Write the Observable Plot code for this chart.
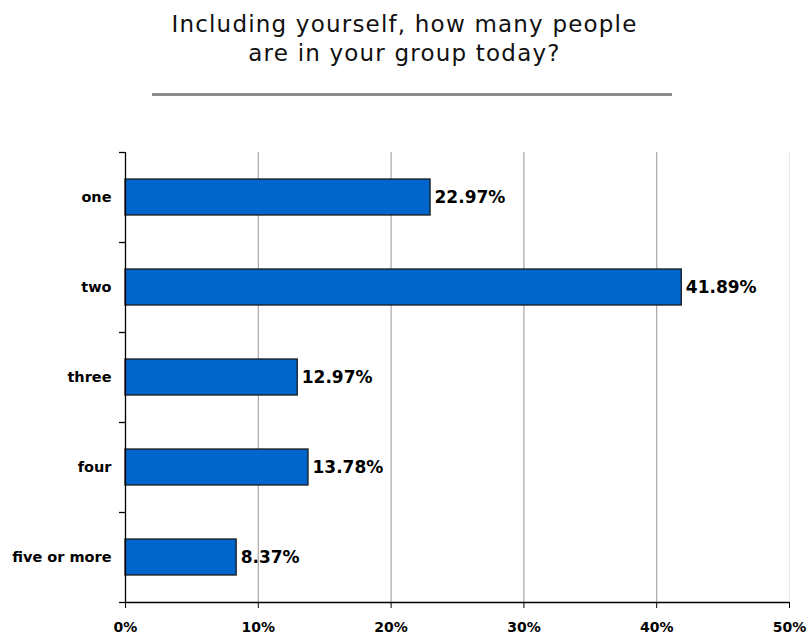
<!DOCTYPE html>
<html>
<head>
<meta charset="utf-8">
<script src="https://cdn.jsdelivr.net/npm/d3@7"></script>
<script src="https://cdn.jsdelivr.net/npm/@observablehq/plot@0.6"></script>
<style>
  html, body { margin: 0; padding: 0; background: #fff; }
  #wrap { width: 809px; height: 637px; position: relative; }
  #title { position: absolute; left: 0; top: 10px; width: 809px; text-align: center;
    font-family: "DejaVu Sans", sans-serif; font-size: 23px; letter-spacing: 1.2px; line-height: 29px; color: #111; }
  #rule { position: absolute; left: 152px; top: 93px; width: 520px; height: 3px; background: #8c8c8c; }
  #chart { position: absolute; left: 0; top: 130px; }
</style>
</head>
<body>
<div id="wrap">
  <div id="title">Including yourself, how many people<br>are in your group today?</div>
  <div id="rule"></div>
  <div id="chart"></div>
</div>
<script>
const categories = ["one", "two", "three", "four", "five or more"];
const values = [22.97, 41.89, 12.97, 13.78, 8.37];
const xTicks = [0, 10, 20, 30, 40, 50];
const gridTicks = [10, 20, 30, 40];

const data = categories.map((c, i) => ({cat: c, value: values[i]}));
const font = "'DejaVu Sans', sans-serif";

const chart = Plot.plot({
  width: 809,
  height: 507,
  marginTop: 22,
  marginBottom: 35,
  marginLeft: 125,
  marginRight: 20,
  style: {fontFamily: font, background: "#fff", overflow: "visible"},
  x: {domain: [0, 50], axis: null},
  y: {domain: categories, paddingInner: 0.6, paddingOuter: 0.3, axis: null},
  marks: [
    Plot.ruleX(gridTicks, {stroke: "#a6a6a6", strokeWidth: 1.2}),
    Plot.ruleX([50], {stroke: "#e6e6e6", strokeWidth: 1.2}),
    Plot.barX(data, {x: "value", y: "cat", fill: "#0066CC", stroke: "#1a1a1a", strokeWidth: 1.3}),
    Plot.text(data, {x: "value", y: "cat", text: d => d.value.toFixed(2) + "%", textAnchor: "start", dx: 4,
      fontWeight: "bold", fontSize: 17, fill: "#000"}),
    // y axis line and boundary ticks
    Plot.ruleX([0], {stroke: "#000", strokeWidth: 1.3}),
    Plot.ruleY(categories, {y: d => d, x1: -0.45, x2: 0, dy: -45, stroke: "#000", strokeWidth: 1.3}),
    Plot.ruleY(categories.slice(-1), {y: d => d, x1: -0.45, x2: 0, dy: 45, stroke: "#000", strokeWidth: 1.3}),
    // y labels
    Plot.text(categories, {x: 0, y: d => d, text: d => d, textAnchor: "end", dx: -14,
      fontWeight: "bold", fontSize: 14.5, fill: "#000"}),
    // x axis
    Plot.axisX(xTicks, {tickFormat: d => d + "%", label: null, tickSize: 6, tickPadding: 14, fontWeight: "bold", fontSize: 14,
      stroke: "#000", fill: "#000"}),
    Plot.ruleY(categories.slice(-1), {y: d => d, x1: 0, x2: 50, dy: 45, stroke: "#000", strokeWidth: 1.3})
  ]
});
document.getElementById("chart").appendChild(chart);
</script>
</body>
</html>
